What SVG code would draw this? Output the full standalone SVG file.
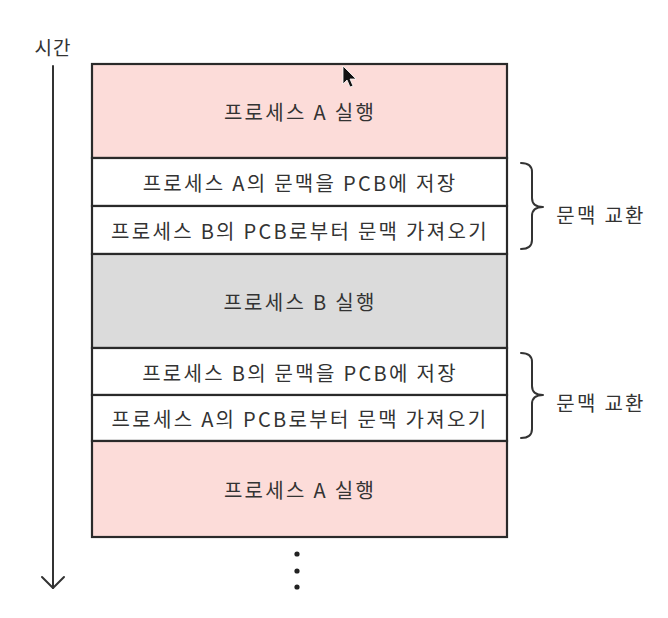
<svg xmlns="http://www.w3.org/2000/svg" width="668" height="618" viewBox="0 0 668 618">
<style>
.box{stroke:#2a2a2a;stroke-width:2.2}
.pink{fill:#fcdcd9}
.gray{fill:#dbdbdb}
.white{fill:#ffffff}
.t{font-family:"Noto Sans CJK KR","Noto Sans",sans-serif;font-size:20px;letter-spacing:2.3px;fill:#333;text-anchor:middle;dominant-baseline:central}
.line{fill:none;stroke:#333;stroke-width:2;stroke-linecap:round;stroke-linejoin:round}
</style>
<rect width="668" height="618" fill="#ffffff"/>
<g id="time-axis">
<text class="t" x="53" y="46" style="font-size:19px;letter-spacing:1px">시간</text>
<line class="line" x1="53" y1="66" x2="53" y2="588" stroke-width="1.6"/>
<polyline class="line" points="42,577 53,588 64,577" stroke-width="1.6"/>
</g>
<g id="row1"><rect class="box pink" x="92" y="64" width="415" height="94"/><text class="t" x="300" y="111">프로세스 A 실행</text></g>
<g id="row2"><rect class="box white" x="92" y="158" width="415" height="48"/><text class="t" x="300" y="182">프로세스 A의 문맥을 PCB에 저장</text></g>
<g id="row3"><rect class="box white" x="92" y="206" width="415" height="48"/><text class="t" x="300" y="230">프로세스 B의 PCB로부터 문맥 가져오기</text></g>
<g id="row4"><rect class="box gray" x="92" y="254" width="415" height="94"/><text class="t" x="300" y="301">프로세스 B 실행</text></g>
<g id="row5"><rect class="box white" x="92" y="348" width="415" height="47"/><text class="t" x="300" y="372">프로세스 B의 문맥을 PCB에 저장</text></g>
<g id="row6"><rect class="box white" x="92" y="395" width="415" height="46"/><text class="t" x="300" y="418">프로세스 A의 PCB로부터 문맥 가져오기</text></g>
<g id="row7"><rect class="box pink" x="92" y="441" width="415" height="96"/><text class="t" x="300" y="489">프로세스 A 실행</text></g>
<g id="connectors">
<path class="line" d="M521,163 Q532,163 532,172 L532,198 Q532,207 543,207 Q532,207 532,216 L532,240 Q532,249 521,249"/>
<path class="line" d="M521,353 Q532,353 532,362 L532,386 Q532,395 543,395 Q532,395 532,404 L532,429 Q532,438 521,438"/>
</g>
<g id="label1"><text class="t" x="601" y="214">문맥 교환</text></g>
<g id="label2"><text class="t" x="601" y="402">문맥 교환</text></g>
<g id="ellipsis">
<circle cx="297" cy="554" r="2.6" fill="#222"/>
<circle cx="297" cy="571" r="2.6" fill="#222"/>
<circle cx="297" cy="587" r="2.6" fill="#222"/>
</g>
<g id="cursor">
<polygon points="343,66 343,84 347,80 350,87 353,86 350,79 356,79" fill="#111" stroke="#fff" stroke-width="0.8"/>
</g>
</svg>
